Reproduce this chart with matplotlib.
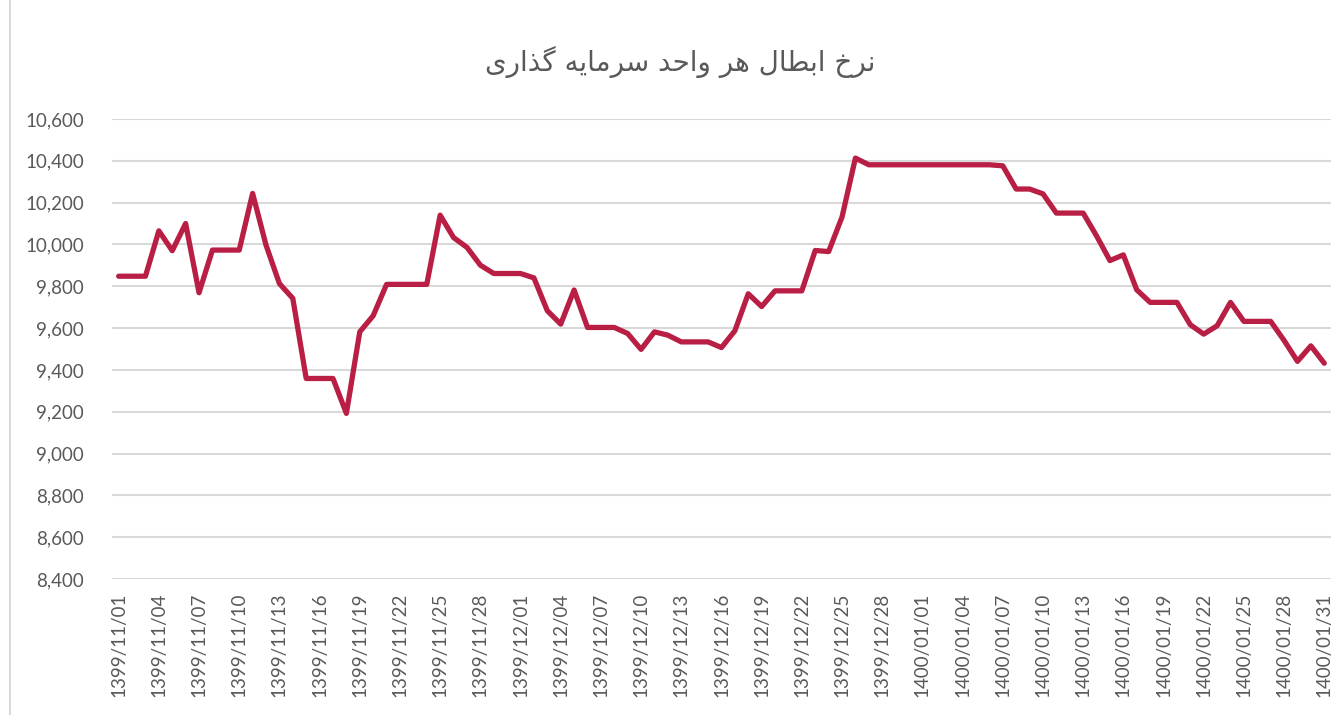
import matplotlib
matplotlib.use("Agg")
import matplotlib.pyplot as plt
from matplotlib.lines import Line2D
from matplotlib.ticker import FuncFormatter

# Persian calendar days: Bahman 1399 (30), Esfand 1399 (30), Farvardin 1400 (31)
month_days = [("1399/11", 30), ("1399/12", 30), ("1400/01", 31)]
dates = [f"{m}/{d:02d}" for m, n in month_days for d in range(1, n + 1)]

# redemption price per unit
nav = [
    9848, 9848, 9848, 10065, 9970, 10100, 9769, 9973, 9973, 9973,
    10244, 9997, 9813, 9742, 9359, 9359, 9359, 9192, 9582, 9659,
    9809, 9809, 9809, 9809, 10140, 10033, 9986, 9901, 9861, 9861,
    9861, 9840, 9683, 9619, 9782, 9603, 9603, 9603, 9574, 9498,
    9582, 9566, 9534, 9534, 9534, 9507, 9587, 9764, 9703, 9778,
    9778, 9778, 9971, 9966, 10131, 10413, 10381, 10381, 10381, 10381,
    10381, 10381, 10381, 10381, 10381, 10381, 10376, 10265, 10265, 10242,
    10150, 10150, 10150, 10041, 9923, 9950, 9783, 9723, 9723, 9723,
    9616, 9571, 9611, 9723, 9632, 9632, 9632, 9541, 9441, 9515,
    9432,
]

title = "نرخ ابطال هر واحد سرمایه گذاری"
y_ticks = list(range(8400, 10601, 200))

# matplotlib has no Arabic shaping, so pick contextual forms by hand
FORMS = {
    "ا": ("\uFE8D", "\uFE8E", None, None),
    "ب": ("\uFE8F", "\uFE90", "\uFE91", "\uFE92"),
    "ح": ("\uFEA1", "\uFEA2", "\uFEA3", "\uFEA4"),
    "خ": ("\uFEA5", "\uFEA6", "\uFEA7", "\uFEA8"),
    "د": ("\uFEA9", "\uFEAA", None, None),
    "ذ": ("\uFEAB", "\uFEAC", None, None),
    "ر": ("\uFEAD", "\uFEAE", None, None),
    "س": ("\uFEB1", "\uFEB2", "\uFEB3", "\uFEB4"),
    "ط": ("\uFEC1", "\uFEC2", "\uFEC3", "\uFEC4"),
    "ل": ("\uFEDD", "\uFEDE", "\uFEDF", "\uFEE0"),
    "م": ("\uFEE1", "\uFEE2", "\uFEE3", "\uFEE4"),
    "ن": ("\uFEE5", "\uFEE6", "\uFEE7", "\uFEE8"),
    "ه": ("\uFEE9", "\uFEEA", "\uFEEB", "\uFEEC"),
    "و": ("\uFEED", "\uFEEE", None, None),
    "ی": ("\uFBFC", "\uFBFD", "\uFBFE", "\uFBFF"),
    "گ": ("\uFB92", "\uFB93", "\uFB94", "\uFB95"),
}


def shape(text):
    out = []
    for k, ch in enumerate(text):
        if ch not in FORMS:
            out.append(ch)
            continue
        prev = text[k - 1] if k > 0 else ""
        nxt = text[k + 1] if k + 1 < len(text) else ""
        f = FORMS[ch]
        jp = prev in FORMS and FORMS[prev][2] is not None
        jn = f[2] is not None and nxt in FORMS
        if jp and jn:
            out.append(f[3])
        elif jp:
            out.append(f[1])
        elif jn:
            out.append(f[2])
        else:
            out.append(f[0])
    return "".join(reversed(out))


def main():
    plt.rcParams["font.family"] = ["Lato", "DejaVu Sans"]
    text_color = "#595959"

    fig = plt.figure(figsize=(13.44, 7.15), dpi=100)
    ax = fig.add_axes([0.0833, 0.1902, 0.907, 0.6434])

    x = list(range(len(nav)))
    ax.plot(x, nav, color="#B91F45", linewidth=3.8, solid_joinstyle="round",
            solid_capstyle="round", zorder=3)

    ax.set_xlim(-0.5, len(nav) - 0.5)
    ax.set_ylim(8400, 10600)
    ax.set_yticks(y_ticks)
    ax.yaxis.set_major_formatter(FuncFormatter(lambda v, p: f"{int(v):,}"))
    ax.grid(axis="y", color="#d9d9d9", linewidth=1.5, zorder=0)
    ax.set_axisbelow(True)

    ax.set_xticks(x[::3])
    ax.set_xticklabels(dates[::3], rotation=90)
    ax.tick_params(axis="both", length=0, labelcolor=text_color, labelsize=13.5)
    ax.tick_params(axis="x", pad=10)
    ax.tick_params(axis="y", pad=20)
    for s in ax.spines.values():
        s.set_visible(False)

    fig.text(0.506, 0.913, shape(title), ha="center", va="center",
             fontsize=20, color=text_color, family=["DejaVu Sans"])

    # faint chart-area border on the left edge
    fig.add_artist(Line2D([0.0075, 0.0075], [0, 1], transform=fig.transFigure,
                          color="#d9d9d9", linewidth=1.5))

    fig.savefig("out.png", dpi=100)


if __name__ == "__main__":
    main()
